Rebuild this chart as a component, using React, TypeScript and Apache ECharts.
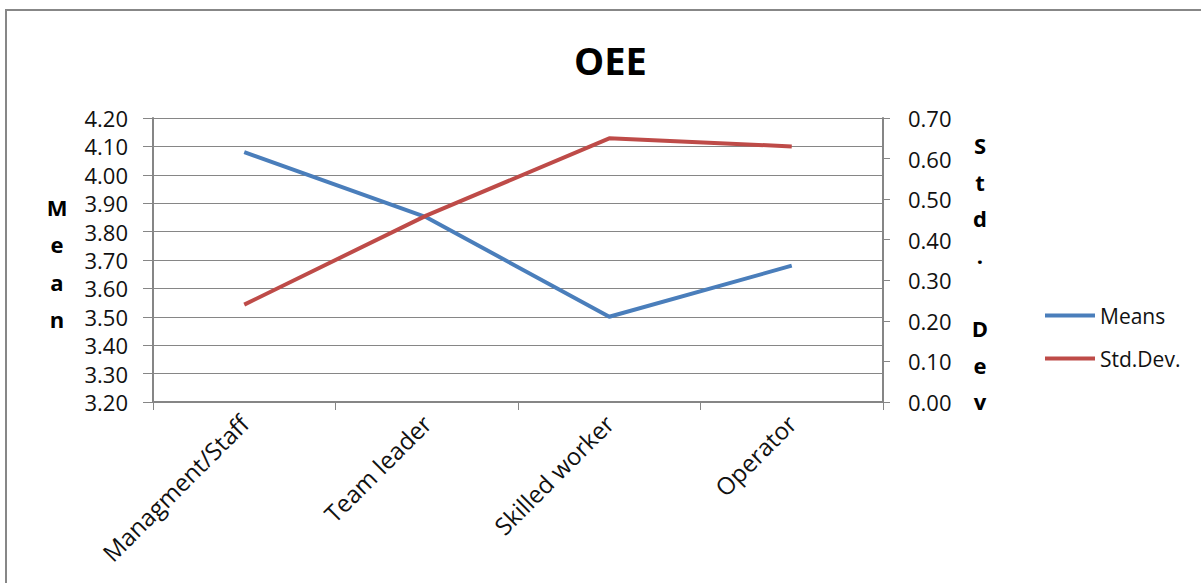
import React, { useEffect, useRef } from 'react';
import * as echarts from 'echarts';

const categories = ['Managment/Staff', 'Team leader', 'Skilled worker', 'Operator'];
const meansValues = [4.08, 3.85, 3.5, 3.68];
const stdDevValues = [0.24, 0.46, 0.65, 0.63];
const seriesNames = ['Means', 'Std.Dev.'];
const leftAxisRange = [3.2, 4.2];
const leftAxisStep = 0.1;
const rightAxisRange = [0, 0.7];
const rightAxisStep = 0.1;

const FONT = '"Open Sans", sans-serif';
const GRID_GREY = '#868686';

export default function App() {
  const ref = useRef<HTMLDivElement>(null);
  useEffect(() => {
    if (!ref.current) return;
    const chart = echarts.init(ref.current, null, { renderer: 'svg' });
    chart.setOption({
      animation: false,
      backgroundColor: '#ffffff',
      title: {
        text: 'OEE',
        left: 569,
        top: 36,
        textStyle: { fontFamily: FONT, fontSize: 38, fontWeight: 'bold', color: '#000' },
      },
      grid: { left: 153, right: 318, top: 118, bottom: 181, containLabel: false },
      legend: {
        orient: 'vertical',
        left: 1040,
        top: 300,
        itemWidth: 50,
        itemHeight: 4,
        itemGap: 22,
        icon: 'rect',
        data: seriesNames,
        textStyle: { fontFamily: FONT, fontSize: 21, color: '#111' },
      },
      xAxis: {
        type: 'category',
        data: categories,
        boundaryGap: true,
        axisLine: { lineStyle: { color: GRID_GREY, width: 2 } },
        axisTick: { show: true, length: 8, lineStyle: { color: GRID_GREY, width: 1 } },
        axisLabel: {
          rotate: 45,
          margin: 17,
          interval: 0,
          fontFamily: FONT,
          fontSize: 24,
          color: '#111',
        },
      },
      yAxis: [
        {
          type: 'value',
          min: leftAxisRange[0],
          max: leftAxisRange[1],
          interval: leftAxisStep,
          position: 'left',
          axisLine: { show: true, lineStyle: { color: GRID_GREY, width: 2 } },
          axisTick: { show: true, length: 10, lineStyle: { color: GRID_GREY, width: 1 } },
          splitLine: { show: true, lineStyle: { color: GRID_GREY, width: 1 } },
          axisLabel: {
            margin: 25,
            fontFamily: FONT,
            fontSize: 22,
            color: '#111',
            formatter: (v: number) => v.toFixed(2),
          },
        },
        {
          type: 'value',
          min: rightAxisRange[0],
          max: rightAxisRange[1],
          interval: rightAxisStep,
          position: 'right',
          axisLine: { show: true, lineStyle: { color: GRID_GREY, width: 2 } },
          axisTick: { show: true, length: 7, lineStyle: { color: GRID_GREY, width: 1 } },
          splitLine: { show: false },
          axisLabel: {
            margin: 25,
            fontFamily: FONT,
            fontSize: 22,
            color: '#111',
            formatter: (v: number) => v.toFixed(2),
          },
        },
      ],
      series: [
        {
          name: seriesNames[0],
          type: 'line',
          yAxisIndex: 0,
          data: meansValues,
          symbol: 'none',
          smooth: false,
          color: '#4a7ebb',
          lineStyle: { color: '#4a7ebb', width: 4 },
        },
        {
          name: seriesNames[1],
          type: 'line',
          yAxisIndex: 1,
          data: stdDevValues,
          symbol: 'none',
          smooth: false,
          color: '#be4b48',
          lineStyle: { color: '#be4b48', width: 4 },
        },
      ],
      graphic: [
        {
          type: 'polyline',
          shape: { points: [[6, 600], [6, 10], [1210, 10]] },
          style: { stroke: '#878787', lineWidth: 2, fill: null },
          silent: true,
        },
        {
          type: 'text',
          x: 57,
          y: 263,
          style: {
            text: 'M\ne\na\nn',
            fontFamily: FONT,
            fontSize: 22,
            fontWeight: 'bold',
            lineHeight: 37.5,
            fill: '#000',
            align: 'center',
            verticalAlign: 'middle',
          },
        },
        {
          type: 'text',
          x: 980,
          y: 273,
          style: {
            text: 'S\nt\nd\n.\n \nD\ne\nv',
            fontFamily: FONT,
            fontSize: 22,
            fontWeight: 'bold',
            lineHeight: 36.6,
            fill: '#000',
            align: 'center',
            verticalAlign: 'middle',
          },
        },
      ],
    });
    return () => chart.dispose();
  }, []);
  return (
    <div
      ref={ref}
      style={{ position: 'fixed', left: 0, top: 0, width: 1201, height: 583, background: '#fff' }}
    />
  );
}
